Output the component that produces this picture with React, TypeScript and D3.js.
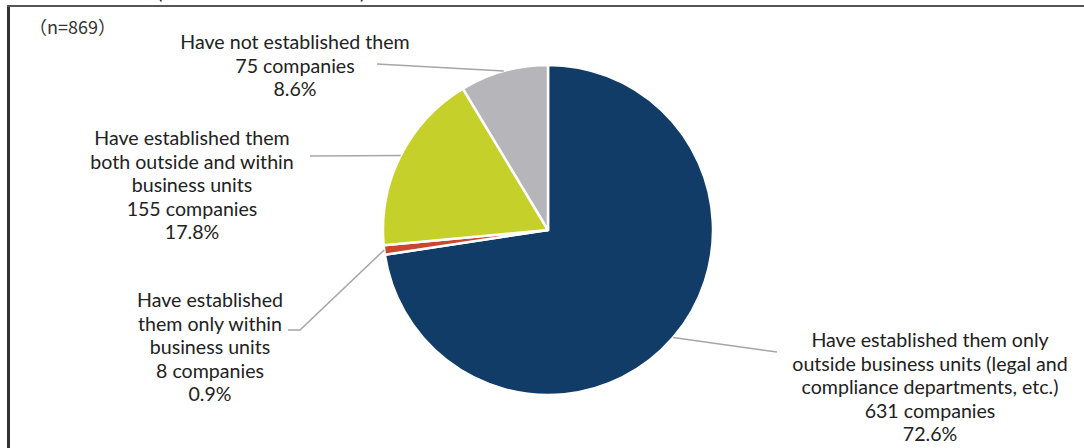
import React from 'react';
import * as d3 from 'd3';

const categories = [
  'Have established them only outside business units (legal and compliance departments, etc.)',
  'Have established them only within business units',
  'Have established them both outside and within business units',
  'Have not established them',
];
const companies = [631, 8, 155, 75];
const percents = ['72.6%', '0.9%', '17.8%', '8.6%'];
const labelLines = [
  ['Have established them only', 'outside business units (legal and', 'compliance departments, etc.)'],
  ['Have established', 'them only within', 'business units'],
  ['Have established them', 'both outside and within', 'business units'],
  ['Have not established them'],
];
const colors = ['#113c67', '#c9472f', '#c6d02a', '#b6b6ba'];
const sampleLabel = '（n=869）';

// layout (label block centre x, first baseline y, leader waypoints from label side)
const labelLayout = [
  { x: 930, y: 347, leader: [[777, 352]] },
  { x: 210, y: 307, leader: [[288, 330], [300, 330]] },
  { x: 192, y: 145, leader: [[310, 156]] },
  { x: 295, y: 49, leader: [[377, 64]] },
];

const W = 1084;
const H = 448;
const cx = 548;
const cy = 230;
const R = 165;
const lineH = 23.5;
const font = 'Lato, "Open Sans", sans-serif';

export default function App() {
  const pie = d3.pie<number>().sort(null).value((d) => d);
  const arcs = pie(companies);
  const arc = d3.arc<d3.PieArcDatum<number>>().innerRadius(0).outerRadius(R);

  return (
    <svg
      width={W}
      height={H}
      style={{ position: 'absolute', left: 0, top: 0, background: '#fff' }}
      fontFamily={font}
    >
      <rect x={0} y={0} width={W} height={H} fill="#fff" />
      {/* clipped title remnant above frame */}
      <text x={157} y={-1} fontSize={20} fill="#222">(</text>
      <text x={360} y={-1} fontSize={20} fill="#222">)</text>
      {/* frame */}
      <line x1={8.5} y1={5} x2={8.5} y2={H} stroke="#333" strokeWidth={3} />
      <line x1={7} y1={6} x2={W} y2={6} stroke="#555" strokeWidth={2} />

      <text x={29} y={34} fontSize={18} fontFamily='"Noto Sans CJK JP", sans-serif' fill="#333">
        {sampleLabel}
      </text>

      <g transform={`translate(${cx},${cy})`}>
        {arcs.map((a, i) => (
          <path key={categories[i]} d={arc(a) || ''} fill={colors[i]} stroke="#fff" strokeWidth={2.5} strokeLinejoin="round" />
        ))}
      </g>

      {arcs.map((a, i) => {
        const mid = (a.startAngle + a.endAngle) / 2;
        const sx = cx + R * Math.sin(mid);
        const sy = cy - R * Math.cos(mid);
        const pts = [[sx, sy], ...labelLayout[i].leader.slice().reverse()];
        return (
          <polyline
            key={'l' + i}
            points={pts.map((p) => p.join(',')).join(' ')}
            fill="none"
            stroke="#a6a6a6"
            strokeWidth={1.5}
          />
        );
      })}

      {labelLines.map((lines, i) => {
        const all = [...lines, `${companies[i]} companies`, percents[i]];
        const L = labelLayout[i];
        return (
          <text key={'t' + i} x={L.x} y={L.y} textAnchor="middle" fontSize={19.6} fill="#222">
            {all.map((s, j) => (
              <tspan key={j} x={L.x} y={L.y + j * lineH}>
                {s}
              </tspan>
            ))}
          </text>
        );
      })}
    </svg>
  );
}
